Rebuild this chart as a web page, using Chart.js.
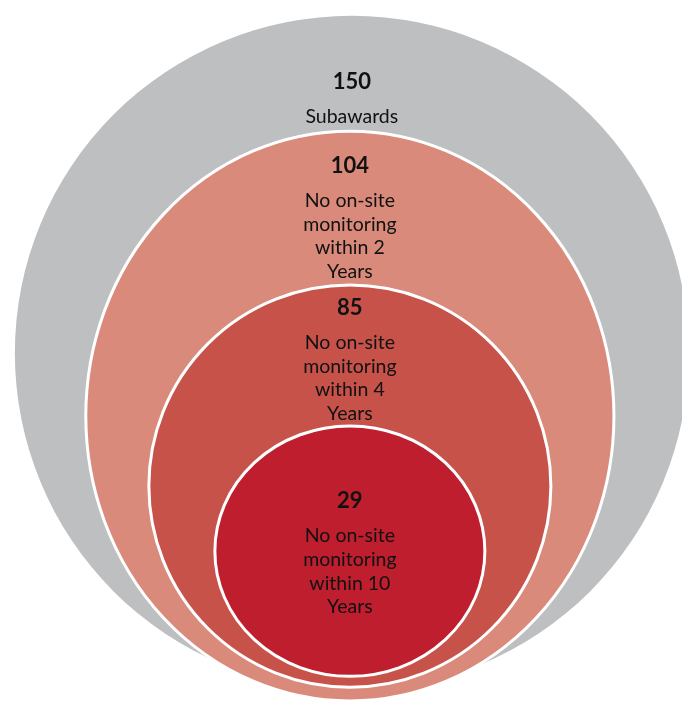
<!DOCTYPE html>
<html>
<head>
<meta charset="utf-8">
<script src="https://cdn.jsdelivr.net/npm/chart.js@4.4.0/dist/chart.umd.min.js"></script>
<style>
  html, body { margin: 0; padding: 0; background: #ffffff; }
  #wrap { width: 682px; height: 704px; }
</style>
</head>
<body>
<div id="wrap"><canvas id="nestedChart" width="682" height="704"></canvas></div>
<script>
/* Data */
const counts = [150, 104, 85, 29];
const captions = [
  ['Subawards'],
  ['No on-site', 'monitoring', 'within 2', 'Years'],
  ['No on-site', 'monitoring', 'within 4', 'Years'],
  ['No on-site', 'monitoring', 'within 10', 'Years']
];

// Layout of the rings, in page units (the scales map 1 unit to 1 px)
const ringCenterX = [352, 350, 350, 350];
const ringCenterY = [353, 417, 488, 554];
const ringRadiusX = [342, 268, 204, 137];
const ringRadiusY = [342, 289, 204, 127];
const labelTopY = [78, 163, 307, 503];

const ringColors = ['#bebfc1', '#d98a7b', '#c6524a', '#be1e2d'];

// draws each ring as an ellipse, using the pixel positions from the scales
const ringPlugin = {
  id: 'rings',
  beforeDatasetDraw() {
    return false;
  },
  afterDatasetsDraw(chart) {
    const ctx = chart.ctx;
    const xs = chart.scales.x;
    const ys = chart.scales.y;
    const meta = chart.getDatasetMeta(0);

    meta.data.forEach((pt, i) => {
      const rx = Math.abs(xs.getPixelForValue(ringCenterX[i] + ringRadiusX[i]) - pt.x);
      const ry = Math.abs(ys.getPixelForValue(ringCenterY[i] + ringRadiusY[i]) - pt.y);
      ctx.save();
      ctx.beginPath();
      ctx.ellipse(pt.x, pt.y, rx, ry, 0, 0, 2 * Math.PI);
      ctx.fillStyle = ringColors[i];
      ctx.fill();
      if (i > 0) {
        ctx.lineWidth = 3;
        ctx.strokeStyle = '#ffffff';
        ctx.stroke();
      }
      ctx.restore();
    });

    // labels
    meta.data.forEach((pt, i) => {
      const top = ys.getPixelForValue(labelTopY[i]);
      ctx.save();
      ctx.fillStyle = '#111111';
      ctx.textAlign = 'center';
      ctx.textBaseline = 'middle';
      ctx.font = 'bold 22px Lato';
      ctx.fillText(String(counts[i]), pt.x, top);
      ctx.font = '19.5px Lato';
      captions[i].forEach((line, j) => {
        ctx.fillText(line, pt.x, top + 35 + j * 23.7);
      });
      ctx.restore();
    });
  }
};

const ctxNested = document.getElementById('nestedChart').getContext('2d');

const nestedChart = new Chart(ctxNested, {
  type: 'bubble',
  data: {
    datasets: [{
      label: 'Subawards',
      data: counts.map((v, i) => ({ x: ringCenterX[i], y: ringCenterY[i], r: 1, count: v })),
      backgroundColor: ringColors
    }]
  },
  options: {
    responsive: false,
    animation: false,
    layout: { padding: 0 },
    events: [],
    scales: {
      x: { type: 'linear', min: 0, max: 682, display: false },
      y: { type: 'linear', min: 0, max: 704, reverse: true, display: false }
    },
    plugins: {
      legend: { display: false },
      tooltip: { enabled: false }
    }
  },
  plugins: [ringPlugin]
});
</script>
</body>
</html>
